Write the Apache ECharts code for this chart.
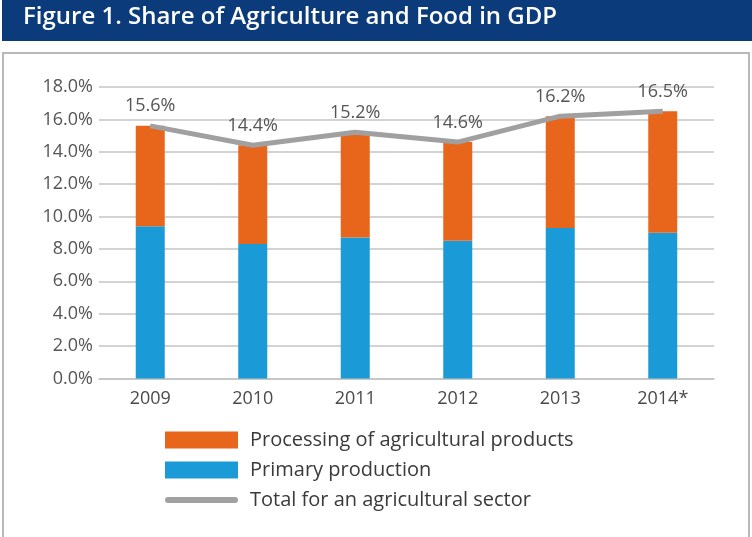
<!DOCTYPE html>
<html>
<head>
<meta charset="utf-8">
<script src="https://cdn.jsdelivr.net/npm/echarts@6/dist/echarts.min.js"></script>
<style>
  html, body { margin: 0; padding: 0; background: #ffffff; }
  #chart { width: 752px; height: 537px; }
</style>
</head>
<body>
<div id="chart"></div>
<script>
// Share of agriculture and food in GDP, by year (percent)
var years = ['2009', '2010', '2011', '2012', '2013', '2014*'];
var primaryProduction = [9.4, 8.3, 8.7, 8.5, 9.3, 9.0];
var processing = [6.2, 6.1, 6.5, 6.1, 6.9, 7.5];
var totalSector = [15.6, 14.4, 15.2, 14.6, 16.2, 16.5];
var yTicks = { min: 0, max: 18, interval: 2 };

var names = {
  processing: 'Processing of agricultural products',
  primary: 'Primary production',
  total: 'Total for an agricultural sector'
};

var FONT = '"Open Sans", "Noto Sans", sans-serif';
var chart = echarts.init(document.getElementById('chart'), null, { renderer: 'canvas' });

chart.setOption({
  animation: false,
  backgroundColor: '#ffffff',
  textStyle: { fontFamily: FONT },
  graphic: [
    {
      type: 'rect', z: 0,
      shape: { x: 2, y: 0, width: 750, height: 41 },
      style: { fill: '#0b3b7a' }
    },
    {
      type: 'rect', z: 0,
      shape: { x: 3, y: 53, width: 746, height: 500 },
      style: { fill: 'none', stroke: '#b8b8b8', lineWidth: 2 }
    }
  ],
  title: {
    text: 'Figure 1. Share of Agriculture and Food in GDP',
    left: 23, top: 5, padding: 0,
    textStyle: { color: '#ffffff', fontSize: 24, fontWeight: 600, fontFamily: FONT }
  },
  legend: {
    orient: 'vertical',
    left: 165, top: 430, padding: 0,
    itemWidth: 73, itemHeight: 17, itemGap: 10,
    selectedMode: false,
    textStyle: { fontSize: 20, color: '#3a3a3a', fontFamily: FONT, padding: [0, 0, 0, 7] },
    data: [
      { name: names.processing, icon: 'rect' },
      { name: names.primary, icon: 'rect' },
      { name: names.total, icon: 'path://M3,0 L70,0 A3,3 0 0 1 70,6 L3,6 A3,3 0 0 1 3,0 Z' }
    ]
  },
  grid: { left: 99, right: 38, top: 87, bottom: 158.5 },
  xAxis: {
    type: 'category',
    data: years,
    axisTick: { show: false },
    axisLine: { lineStyle: { color: '#c4c4c4', width: 1.5 } },
    axisLabel: { fontSize: 18, color: '#4a4a4a', margin: 11, fontFamily: FONT }
  },
  yAxis: {
    type: 'value',
    min: yTicks.min, max: yTicks.max, interval: yTicks.interval,
    axisLine: { show: false },
    axisTick: { show: false },
    splitLine: { lineStyle: { color: '#c4c4c4', width: 1.5 } },
    axisLabel: {
      fontSize: 18, color: '#555555', margin: 6, fontFamily: FONT,
      formatter: function (v) { return v.toFixed(1) + '%'; }
    }
  },
  series: [
    {
      name: names.primary,
      type: 'bar', stack: 'share',
      barWidth: 29,
      itemStyle: { color: '#1a9bd7' },
      data: primaryProduction
    },
    {
      name: names.processing,
      type: 'bar', stack: 'share',
      barWidth: 29,
      itemStyle: { color: '#e8661c' },
      data: processing
    },
    {
      name: names.total,
      type: 'line',
      z: 5,
      symbol: 'circle',
      symbolSize: 1,
      showSymbol: true,
      itemStyle: { color: '#a0a0a0' },
      lineStyle: { color: '#a0a0a0', width: 5 },
      label: {
        show: true, position: 'top', distance: 10,
        fontSize: 18, color: '#555555', fontFamily: FONT,
        formatter: function (p) { return p.value.toFixed(1) + '%'; }
      },
      labelLayout: { hideOverlap: false },
      data: totalSector
    }
  ]
});
</script>
</body>
</html>
